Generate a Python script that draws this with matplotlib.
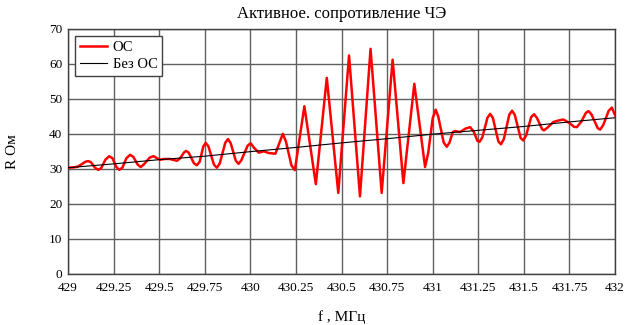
import matplotlib
matplotlib.use('Agg')
import matplotlib.pyplot as plt

# frequency, MHz and R, Ohm
f_os = [429.000, 429.030, 429.053, 429.075, 429.095, 429.110, 429.125, 429.148,
        429.166, 429.182, 429.205, 429.226, 429.244, 429.265, 429.281, 429.298,
        429.320, 429.340, 429.358, 429.382, 429.398, 429.415, 429.448, 429.468,
        429.485, 429.505, 429.530, 429.559, 429.580, 429.598, 429.615, 429.635,
        429.647, 429.662, 429.690, 429.706, 429.722, 429.742, 429.755, 429.770,
        429.800, 429.816, 429.832, 429.862, 429.877, 429.892, 429.920, 429.935,
        429.950, 429.985, 430.001, 430.020, 430.046, 430.073, 430.101, 430.137,
        430.160, 430.178, 430.195, 430.225, 430.244,
        430.296, 430.359, 430.419, 430.482, 430.541, 430.601, 430.659, 430.720,
        430.780, 430.839, 430.899, 430.958,
        430.975, 431.000, 431.016, 431.030, 431.060, 431.077, 431.092, 431.110,
        431.122, 431.150, 431.180, 431.205, 431.225, 431.245, 431.257, 431.272,
        431.300, 431.315, 431.330, 431.360, 431.374, 431.390, 431.420, 431.435,
        431.450, 431.482, 431.496, 431.512, 431.540, 431.556, 431.572, 431.600,
        431.610, 431.630, 431.662, 431.690, 431.716, 431.749, 431.775, 431.790,
        431.815, 431.840, 431.854, 431.870, 431.905, 431.918, 431.935, 431.965,
        431.982, 432.000]
r_os = [30.3, 30.4, 30.6, 31.3, 32.0, 32.2, 31.9, 30.3,
        29.7, 30.2, 32.6, 33.6, 33.0, 30.5, 29.7, 30.3,
        33.0, 34.0, 33.4, 31.2, 30.5, 31.2, 33.2, 33.6,
        33.1, 32.6, 32.8, 32.8, 32.5, 32.3, 33.0, 34.6,
        35.1, 34.6, 31.6, 31.0, 32.0, 36.4, 37.4, 36.4,
        31.2, 30.3, 31.5, 37.4, 38.5, 37.3, 32.3, 31.4,
        32.4, 36.6, 37.3, 36.0, 34.6, 35.0, 34.5, 34.3,
        37.5, 40.0, 37.8, 31.0, 29.6,
        47.9, 25.6, 56.0, 23.1, 62.4, 22.1, 64.3, 23.1,
        61.2, 25.9, 54.3, 30.5,
        34.5, 44.5, 46.9, 45.0, 37.5, 36.3, 37.5, 40.5,
        40.8, 40.5, 41.5, 41.9, 40.6, 38.0, 37.7, 39.0,
        44.6, 45.7, 44.5, 37.8, 37.0, 38.5, 45.5, 46.6,
        45.4, 38.8, 38.1, 39.5, 44.8, 45.6, 44.5, 41.3,
        41.0, 41.8, 43.4, 43.8, 44.1, 43.1, 42.0, 41.9,
        43.5, 46.0, 46.5, 45.6, 41.6, 41.2, 42.5, 46.6,
        47.5, 45.3]

f_bez = [429.0, 429.25, 429.5, 429.75, 430.0, 430.25, 430.5, 430.75,
         431.0, 431.25, 431.5, 431.75, 432.0]
r_bez = [30.3, 31.4, 32.6, 33.6, 34.9, 36.1, 37.4, 38.6,
         39.9, 41.0, 42.1, 43.4, 44.6]

x_ticks = [429, 429.25, 429.5, 429.75, 430, 430.25, 430.5, 430.75,
           431, 431.25, 431.5, 431.75, 432]
x_labels = ['429', '429.25', '429.5', '429.75', '430', '430.25', '430.5',
            '430.75', '431', '431.25', '431.5', '431.75', '432']
y_ticks = [0, 10, 20, 30, 40, 50, 60, 70]

plt.rcParams['font.family'] = ['Liberation Serif', 'DejaVu Serif']

fig = plt.figure(figsize=(6.27, 3.25), dpi=100)
ax = fig.add_axes([0.1085, 0.158, 0.8725, 0.753])

ax.plot(f_os, r_os, color='red', lw=1.8, label='ОС', zorder=3)
ax.plot(f_bez, r_bez, color='black', lw=0.8, label='Без ОС', zorder=4)

ax.set_xlim(429, 432)
ax.set_ylim(0, 70)
ax.set_xticks(x_ticks)
ax.set_xticklabels(x_labels)
ax.set_yticks(y_ticks)
ax.tick_params(length=0, labelsize=9.5, colors='black')
ax.tick_params(axis='x', pad=6)
ax.tick_params(axis='y', pad=4)
ax.grid(True, color='#606060', lw=1.0)
ax.set_axisbelow(True)
for s in ax.spines.values():
    s.set_color('#404040')
    s.set_linewidth(1.0)

ax.set_title('Активное. сопротивление ЧЭ', fontsize=12, pad=8)
ax.set_xlabel('f , МГц', fontsize=11, labelpad=12)
ax.set_ylabel('R Ом', fontsize=11, labelpad=22)

leg = ax.legend(loc='upper left', fontsize=10.5, frameon=True, fancybox=False,
                handlelength=1.85, borderaxespad=0.5, borderpad=0.3,
                labelspacing=0.3, handletextpad=0.4)
leg.get_frame().set_edgecolor('#404040')
leg.get_frame().set_linewidth(1.0)
leg.get_frame().set_alpha(1)

fig.savefig('out.png', dpi=100)
